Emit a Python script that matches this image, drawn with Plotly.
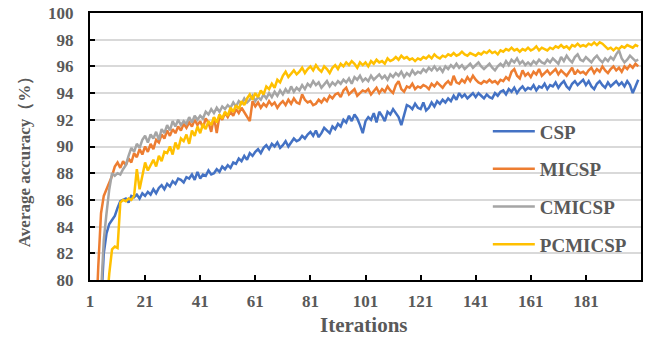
import plotly.graph_objects as go

iterations = list(range(1, 201))

csp = [
    60, 65, 69, 72, 78, 82, 83.5, 84.2, 84.5, 84.8,
    85.4, 85.9, 86.0, 86.1, 85.8, 86.3, 86.2, 86.4, 86.1, 86.5,
    86.3, 86.6, 86.4, 86.8, 86.5, 86.9, 87.1, 86.8, 87.2, 87.0,
    87.4, 87.2, 87.6, 87.5, 87.3, 87.7, 87.6, 87.9, 87.5, 88.1,
    87.6, 87.9, 87.8, 88.2, 87.9, 88.0, 88.3, 88.1, 88.5, 88.3,
    88.6, 88.4, 88.8, 88.7, 89.1, 88.9, 89.3, 89.0, 89.5, 89.3,
    89.6, 89.8, 89.5, 89.9, 90.1, 89.8, 90.2, 90.0, 90.3, 89.9,
    90.1, 90.4, 90.0, 90.3, 90.6, 90.4, 90.5, 90.8, 90.6, 90.9,
    91.1, 90.8, 91.2, 90.7, 91.0, 91.4, 91.2, 91.0, 91.5, 91.3,
    91.7, 91.5, 92.0, 91.8, 92.3, 91.9, 92.4, 92.1, 91.6, 91.0,
    91.9, 92.2, 92.0, 92.5, 91.8, 92.6, 92.3, 91.9, 92.6, 92.4,
    92.8, 92.5, 92.2, 91.6, 92.4, 93.1, 93.0, 92.8, 93.2, 92.9,
    92.8, 93.3, 92.7, 92.9, 93.3, 93.0, 93.4, 93.2, 93.5, 93.3,
    93.6, 93.4, 93.8, 93.5, 94.0, 93.7, 93.9, 93.6, 93.8, 94.0,
    93.7, 94.0, 93.8, 93.6, 93.9, 93.7, 93.6, 94.0, 93.8, 94.1,
    94.2, 93.9, 94.3, 94.1, 94.4, 94.0, 94.3, 94.5, 94.2, 94.4,
    94.3, 94.6, 94.2, 94.5, 94.4, 94.7, 94.3, 94.6, 94.5, 94.8,
    94.4, 94.7, 94.9, 94.5, 94.3, 94.7, 94.9, 94.6, 94.8, 95.0,
    94.6, 94.9, 94.5, 94.3, 94.7, 94.9, 94.6, 94.4, 94.8, 94.5,
    94.7, 94.9, 94.6, 94.8, 94.5, 94.9, 94.6, 94.0, 94.5, 95.0,
]

micsp = [
    62, 70, 76, 81, 85.0, 86.3, 86.8, 87.3, 87.8, 88.5,
    88.8, 88.4, 88.9, 88.6, 89.1, 88.8, 89.5, 89.2, 89.8, 89.4,
    90.0, 89.6, 90.2, 89.8, 90.5, 90.3, 90.9, 90.6, 91.2, 90.8,
    91.3, 91.0, 91.5, 91.2, 91.7, 91.4, 91.8, 91.5, 92.0, 91.6,
    91.9, 91.4, 92.1, 91.8, 91.1, 92.2, 91.0, 92.3, 92.0, 92.5,
    92.2, 92.6, 92.3, 92.8, 92.5, 92.9, 92.6, 92.2, 91.9, 93.4,
    93.0, 93.3, 92.9, 93.2, 93.0, 93.4, 93.1, 93.3, 92.9, 93.2,
    93.4, 93.1, 93.5, 93.2, 93.6, 93.3, 93.2, 93.9, 93.5, 93.3,
    93.4, 93.1, 93.2, 93.5, 93.3, 93.6, 93.4, 93.8, 93.6, 93.9,
    94.0, 93.7, 94.2, 94.4, 93.9, 94.1, 94.3, 93.8, 94.0, 94.2,
    94.1, 94.3, 93.9, 94.2, 94.4, 94.0, 94.3, 94.1, 94.5, 94.2,
    94.0, 94.6, 94.9, 94.3, 94.1, 94.5, 94.4, 94.7, 94.3, 94.5,
    94.4, 94.6, 94.5, 94.3, 94.7, 94.5, 94.8, 94.6, 94.4, 94.7,
    94.9, 94.6, 95.3, 94.8, 94.7, 95.0, 94.8, 95.2, 94.9, 95.3,
    95.0, 94.8, 94.7, 94.9, 94.8, 95.0, 94.8, 94.9, 94.7, 95.0,
    94.9, 95.2, 95.0, 95.6, 95.8, 95.3, 95.1, 95.7, 95.3, 95.5,
    95.2, 95.6, 95.4, 95.8, 95.3, 95.5, 95.7, 95.4, 95.6, 95.8,
    95.4, 95.7, 95.5, 95.3, 95.6, 95.9, 95.4, 95.7, 95.5, 95.6,
    95.4, 95.7, 95.9, 95.5, 95.8, 95.6, 96.0, 95.7, 95.5, 95.8,
    96.0, 95.7, 95.9, 95.6, 96.0, 95.8, 96.1, 95.9, 96.2, 96.0,
]

cmicsp = [
    55, 62, 68, 74, 79, 83, 85, 86.8, 88.0, 87.8,
    88.0, 87.9, 88.3, 88.6, 89.3, 89.9, 89.6, 90.2, 89.9, 90.5,
    90.8, 90.3, 90.9, 90.6, 91.1, 90.5, 91.3, 91.0, 91.6, 91.2,
    91.9, 91.5, 92.0, 91.6, 91.9, 91.7, 92.2, 91.8, 92.3, 92.0,
    92.3, 92.1, 92.6, 92.4, 92.8, 92.5, 92.9, 92.6, 93.0, 92.8,
    93.1, 92.9, 93.3, 93.0, 93.4, 93.2, 93.6, 93.3, 93.5, 93.8,
    93.4, 93.7, 93.5, 93.9, 93.6, 94.0, 93.7, 94.1, 93.8, 94.2,
    93.9, 94.3, 94.0, 94.5, 94.1, 94.4, 94.2, 94.6, 94.3, 94.7,
    94.5, 94.9, 94.6, 94.8, 94.4, 94.7, 94.9, 94.5, 94.8, 94.6,
    94.9, 94.7, 95.0, 94.8, 95.1, 94.7, 95.2, 95.0, 95.3, 94.9,
    95.1, 94.9, 95.3, 95.0, 95.2, 95.4, 95.1, 95.3, 95.0, 95.4,
    95.2, 95.5, 95.3, 95.6, 95.2, 95.5, 95.3, 95.7, 95.4, 95.6,
    95.5, 95.8, 95.6, 95.9, 95.7, 96.0, 95.7, 95.9, 95.6, 96.0,
    95.8, 96.1, 95.9, 96.2, 95.9, 96.1, 95.8, 96.0, 96.2, 95.9,
    96.1, 96.3, 96.0, 95.8, 96.0, 96.2, 95.9, 95.7, 96.0, 96.2,
    96.0, 96.4, 96.1, 96.5, 96.3, 96.6, 96.2, 96.4, 96.1, 96.3,
    96.1, 96.4, 96.2, 96.5, 96.3, 96.2, 96.5, 96.3, 96.6, 96.4,
    96.2, 96.7, 96.4, 96.8, 96.5, 96.3, 96.7, 96.9, 96.5, 96.4,
    96.7, 96.5, 96.3, 96.6, 96.8, 96.5, 96.3, 96.6, 96.4, 96.7,
    96.5, 96.9, 97.2, 96.6, 96.3, 96.5, 96.8, 96.6, 96.4, 96.5,
]

pcmicsp = [
    50, 56, 62, 68, 72, 76, 78, 80.5, 82.3, 82.5,
    82.4, 85.8, 86.0, 85.9, 86.1, 86.0, 86.3, 88.3, 86.8, 87.9,
    88.8, 88.2, 88.6, 89.0, 88.5, 89.3, 88.9, 89.6, 89.5, 90.0,
    89.4, 90.3, 89.8, 90.6, 90.4, 90.9, 90.2, 91.2, 90.8, 91.5,
    91.0, 91.7, 91.3, 91.9, 91.6, 92.2, 91.8, 92.4, 92.1, 92.6,
    92.3, 92.9, 92.6, 93.1, 92.8, 93.4, 93.1, 93.6, 93.9, 93.5,
    94.0, 93.7, 94.2, 93.9, 94.5, 94.3, 94.7, 94.4, 95.0, 94.8,
    95.3, 95.6, 95.2, 95.5, 95.7, 95.4, 95.6, 95.9, 95.5, 95.8,
    96.0, 95.7, 96.1, 95.8, 95.6, 96.0, 95.8, 95.5, 95.9, 96.1,
    95.8, 96.2, 96.0, 96.3, 96.1, 96.4, 96.2, 95.9, 96.3, 96.1,
    96.3, 96.0, 96.4, 96.2, 96.5, 96.3, 96.4, 96.2, 96.6, 96.4,
    96.5, 96.7, 96.5, 96.8, 96.6, 96.7, 96.5, 96.6, 96.4, 96.6,
    96.5, 96.7, 96.6, 96.8, 96.6, 96.9, 96.7, 96.6, 96.8, 96.7,
    96.9, 96.8, 97.0, 96.8, 96.9, 97.1, 96.9, 96.8, 97.0, 96.9,
    96.8, 97.0, 96.9, 97.1, 97.0, 97.2, 97.0, 97.1, 96.9, 97.2,
    97.1, 97.3, 97.2, 97.4, 97.2, 97.3, 97.1, 97.3, 97.2, 97.4,
    97.2, 97.3, 97.5, 97.2, 97.4, 97.3, 97.2, 97.4, 97.3, 97.5,
    97.4, 97.6, 97.4, 97.5, 97.3, 97.6, 97.5, 97.7, 97.5, 97.6,
    97.5, 97.7, 97.6, 97.8, 97.6, 97.8, 97.7, 97.5, 97.3, 97.4,
    97.2, 97.4, 97.3, 97.5, 97.4, 97.6, 97.5, 97.4, 97.6, 97.5,
]

series_names = ["CSP", "MICSP", "CMICSP", "PCMICSP"]
series_values = [csp, micsp, cmicsp, pcmicsp]
series_colors = ["#4472C4", "#ED7D31", "#A5A5A5", "#FFC000"]

x_ticks = [1, 21, 41, 61, 81, 101, 121, 141, 161, 181]
y_ticks = [80, 82, 84, 86, 88, 90, 92, 94, 96, 98, 100]

x_title = "Iterations"
y_title = "Average accuracy（%）"

FONT = "Liberation Serif, Times New Roman, serif"
GRAY = "#595959"

fig = go.Figure()
for name, vals, col in zip(series_names, series_values, series_colors):
    fig.add_trace(go.Scatter(
        x=iterations, y=vals, mode="lines", name=name,
        legendgroup=name,
        line=dict(color=col, width=2.5),
    ))

fig.update_layout(
    width=645, height=339,
    margin=dict(l=90, r=4, t=13, b=59),
    paper_bgcolor="white", plot_bgcolor="white",
    font=dict(family=FONT, color=GRAY, size=16),
    showlegend=True,
    legend=dict(
        x=0.722, y=0.628, xanchor="left", yanchor="top",
        bgcolor="rgba(0,0,0,0)",
        font=dict(family=FONT, size=19, color=GRAY, weight="bold"),
        traceorder="grouped", tracegroupgap=10,
        itemwidth=42,
    ),
    xaxis=dict(
        range=[1, 201], tickvals=x_ticks, ticktext=[str(v) for v in x_ticks],
        showgrid=False, zeroline=False, automargin=False,
        showline=True, linecolor="black", linewidth=2, mirror=True,
        ticks="inside", ticklen=5, tickwidth=2, tickcolor="black",
        ticklabelstandoff=5, ticklabeloverflow="allow",
        tickfont=dict(family=FONT, size=17, color=GRAY, weight="bold"),
    ),
    yaxis=dict(
        range=[80, 100], tickvals=y_ticks,
        showgrid=True, gridcolor="#D9D9D9", gridwidth=1.5, zeroline=False,
        automargin=False,
        showline=True, linecolor="black", linewidth=2, mirror=True,
        ticks="inside", ticklen=5, tickwidth=2, tickcolor="black",
        ticklabelstandoff=11, ticklabeloverflow="allow",
        tickfont=dict(family=FONT, size=17, color=GRAY, weight="bold"),
    ),
    annotations=[
        dict(text=x_title, xref="paper", yref="paper", x=0.497, y=-0.1685,
             xanchor="center", yanchor="middle", showarrow=False,
             font=dict(family=FONT, size=21, color=GRAY, weight="bold")),
        dict(text=y_title, xref="paper", yref="paper", x=-0.1198, y=0.46,
             xanchor="center", yanchor="middle", showarrow=False, textangle=-90,
             font=dict(family=FONT, size=17, color=GRAY, weight="bold")),
    ],
)

# remove the page's default 8px body margin so the 645x339 figure fills the window
fig.write_html("out.html", config={"displayModeBar": False},
               post_script="document.body.style.margin='0px';")
